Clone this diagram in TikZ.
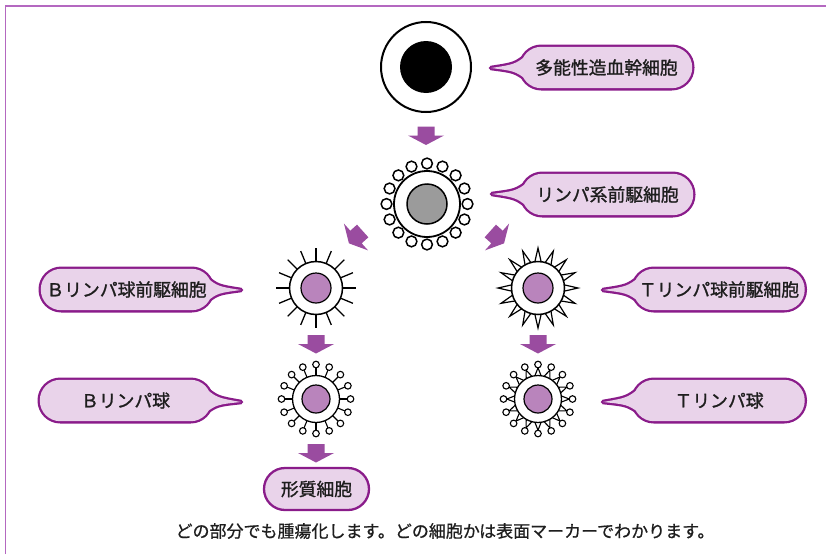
\documentclass[tikz,border=0pt]{standalone}
\usepackage{fontspec}
\newfontfamily\jpfont[FakeBold=1.3]{Noto Sans CJK JP}
\newfontfamily\jpnote[FakeBold=0.8]{Noto Sans CJK JP}
\usetikzlibrary{calc,backgrounds}

\definecolor{framecol}{HTML}{B468C0}
\definecolor{bline}{HTML}{8A1C8A}
\definecolor{bfill}{HTML}{E9D3EA}
\definecolor{arrowfill}{HTML}{9A4CA0}
\definecolor{cellpurple}{HTML}{B984BC}
\definecolor{graynuc}{HTML}{9B9B9B}
\definecolor{textcol}{HTML}{1E1E1E}

\tikzset{
  lbl/.style={font=\jpfont\fontsize{17.8}{20}\selectfont, text=textcol, inner sep=0pt,
    minimum width=171pt, minimum height=41pt},
  membrane/.style={circle, draw=black, fill=white, inner sep=0pt},
  nucleus/.style={circle, draw=black, fill=#1, inner sep=0pt, line width=1.2pt},
  pics/blockarrow/.style={code={
    \fill[arrowfill] (-8.5,-9) -- (8.5,-9) -- (8.5,0) -- (18,0) -- (0,9.5)
      -- (-18,0) -- (-8.5,0) -- cycle;}},
}

% speech bubble behind label #1, pointer reaching #2;
% #3 = anchor of the pointer end, #4 = shift to that end's arc centre, #5 = pointer direction
\newcommand\bubblebg[5]{%
  \begin{scope}[on background layer]
    \coordinate (#1-c) at ($(#1.#3)+(#4,0)$);
    \coordinate (#1-p) at ($(#1-c)+({#5-40}:19)$);
    \coordinate (#1-q) at ($(#1-c)+({#5+40}:19)$);
    \coordinate (#1-m) at ($(#2)!0.55!(#1-c)$);
    \coordinate (#1-k1) at ($(#2)!0.55!(#1-p)$);
    \coordinate (#1-k2) at ($(#2)!0.55!(#1-q)$);
    \coordinate (#1-k1) at ($(#1-k1)!0.5!(#1-m)$);
    \coordinate (#1-k2) at ($(#1-k2)!0.5!(#1-m)$);
    \draw[draw=bline, line width=4.6pt, rounded corners=20.5pt]
      (#1.north west) rectangle (#1.south east);
    \draw[draw=bline, line width=4.6pt, line join=round]
      (#1-p) .. controls (#1-k1) .. (#2) .. controls (#1-k2) .. (#1-q) -- cycle;
    \fill[bfill, rounded corners=20.5pt] (#1.north west) rectangle (#1.south east);
    \fill[bfill] (#1-p) .. controls (#1-k1) .. (#2) .. controls (#1-k2) .. (#1-q) -- cycle;
  \end{scope}}

\begin{document}
\begin{tikzpicture}[x=1pt, y=-1pt]
  \useasboundingbox (0,0) rectangle (826,554);

  % outer frame
  \draw[framecol, line width=1.6pt] (5.5,554) -- (5.5,6) -- (826,6);

  % ---- haematopoietic stem cell
  \node[membrane, line width=2pt, minimum size=90pt] (stem) at (426,67) {};
  \node[circle, fill=black, inner sep=0pt, minimum size=52pt] (stemN) at (stem) {};

  % ---- lymphoid progenitor
  \coordinate (lpc) at (427,204);
  \foreach \a in {0,22.5,...,337.5}
    \draw[line width=1.5pt, fill=white] ($(lpc)+(\a:40.5)$) circle (5.4pt);
  \node[membrane, line width=1.8pt, minimum size=66pt] (lymph) at (lpc) {};
  \node[nucleus=graynuc, line width=1.5pt, minimum size=40pt] (lymphN) at (lymph) {};

  % ---- B progenitor (radial spikes)
  \coordinate (bpc) at (316,288);
  \foreach \a in {0,22.5,...,337.5}
    \draw[line width=1.3pt] ($(bpc)+(\a:26)$) -- ($(bpc)+(\a:40)$);
  \node[membrane, line width=1.5pt, minimum size=53pt] (bprog) at (bpc) {};
  \node[nucleus=cellpurple, minimum size=30pt] (bprogN) at (bprog) {};

  % ---- T progenitor (triangular spikes)
  \coordinate (tpc) at (538,288);
  \foreach \a in {0,22.5,...,337.5}
    \draw[line width=1.2pt, fill=white, line join=miter]
      ($(tpc)+({\a-8}:25)$) -- ($(tpc)+(\a:40)$) -- ($(tpc)+({\a+8}:25)$) -- cycle;
  \node[membrane, line width=1.5pt, minimum size=53pt] (tprog) at (tpc) {};
  \node[nucleus=cellpurple, minimum size=30pt] (tprogN) at (tprog) {};

  % ---- B lymphocyte (stalked knobs)
  \coordinate (blc) at (316,399);
  \foreach \a in {0,22.5,...,337.5}{
    \draw[line width=1.1pt] ($(blc)+(\a:23)$) -- ($(blc)+(\a:31.2)$);
    \draw[line width=1.1pt, fill=white] ($(blc)+(\a:34.5)$) circle (3.3pt);
  }
  \node[membrane, line width=1.3pt, minimum size=47pt] (blym) at (blc) {};
  \node[nucleus=cellpurple, minimum size=28pt] (blymN) at (blym) {};

  % ---- T lymphocyte (triangles with knobs)
  \coordinate (tlc) at (538,399);
  \foreach \a in {0,22.5,...,337.5}{
    \draw[line width=1.1pt, fill=white, line join=miter]
      ($(tlc)+({\a-9}:22.5)$) -- ($(tlc)+(\a:31.2)$) -- ($(tlc)+({\a+9}:22.5)$) -- cycle;
    \draw[line width=1.1pt, fill=white] ($(tlc)+(\a:34.5)$) circle (3.3pt);
  }
  \node[membrane, line width=1.3pt, minimum size=47pt] (tlym) at (tlc) {};
  \node[nucleus=cellpurple, minimum size=28pt] (tlymN) at (tlym) {};

  % ---- block arrows
  \pic at (426,135.5) {blockarrow};
  \pic[rotate=-48] at (356,237) {blockarrow};
  \pic[rotate=48] at (497,237) {blockarrow};
  \pic at (316,344) {blockarrow};
  \pic at (538,344) {blockarrow};
  \pic at (316,453) {blockarrow};

  % ---- labels
  \node[lbl] (lStem) at (606.5,67.5) {多能性造血幹細胞};
  \coordinate (tStem) at (491,68);
  \bubblebg{lStem}{tStem}{west}{20.5}{180}

  \node[lbl] (lLymph) at (607.5,194.5) {リンパ系前駆細胞};
  \coordinate (tLymph) at (492,194);
  \bubblebg{lLymph}{tLymph}{west}{20.5}{180}

  \node[lbl] (lBprog) at (126.5,289.5) {Ｂリンパ球前駆細胞};
  \coordinate (tBprog) at (241,290);
  \bubblebg{lBprog}{tBprog}{east}{-20.5}{0}

  \node[lbl] (lTprog) at (719,289.5) {Ｔリンパ球前駆細胞};
  \coordinate (tTprog) at (603,290);
  \bubblebg{lTprog}{tTprog}{west}{20.5}{180}

  \node[lbl] (lBlym) at (125.5,400.5) {Ｂリンパ球};
  \coordinate (tBlym) at (241,402);
  \bubblebg{lBlym}{tBlym}{east}{-20.5}{0}

  \node[lbl] (lTlym) at (719,400.5) {Ｔリンパ球};
  \coordinate (tTlym) at (603,402);
  \bubblebg{lTlym}{tTlym}{west}{20.5}{180}

  \node[lbl, draw=bline, fill=bfill, line width=2.3pt, rounded corners=21pt,
    minimum width=105pt, minimum height=42pt] (plasma) at (316.5,489) {形質細胞};

  % ---- footnote
  \node[font=\jpnote\fontsize{17}{20}\selectfont, text=textcol, inner sep=0pt] (note)
    at (445,531) {どの部分でも腫瘍化します。どの細胞かは表面マーカーでわかります。};
\end{tikzpicture}
\end{document}
